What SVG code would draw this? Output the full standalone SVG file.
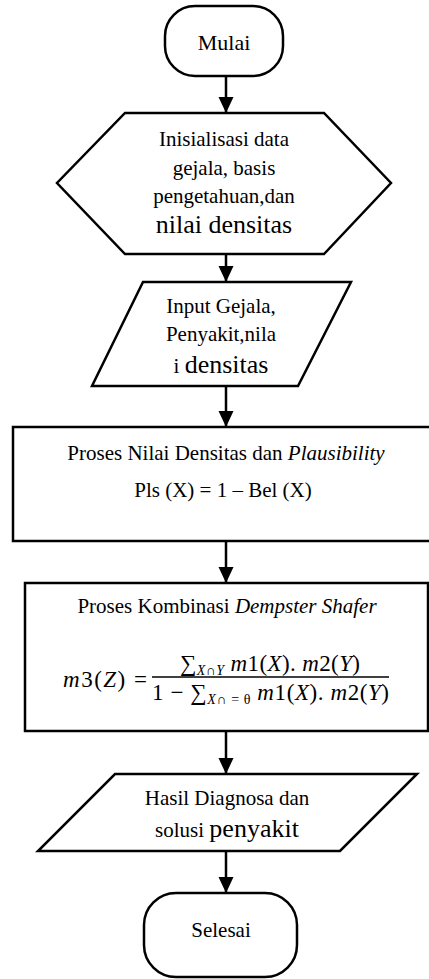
<svg xmlns="http://www.w3.org/2000/svg" width="429" height="979" viewBox="0 0 429 979">
<style>
.s{fill:#fff;stroke:#000;stroke-width:2.5;stroke-linejoin:miter}
.t{font-family:'Liberation Serif','Times New Roman',Times,serif;font-size:21px;fill:#000;text-anchor:middle}
.b{font-size:26px}
.i{font-style:italic}
.m{font-family:'Liberation Serif','Times New Roman',Times,serif;font-size:23px;fill:#000}
.c{stroke:#000;stroke-width:2.5;fill:none}
</style>
<defs>
<marker id="ah" viewBox="0 0 16 16" refX="16" refY="8" markerWidth="16" markerHeight="16" markerUnits="userSpaceOnUse" orient="auto">
<path d="M0,0.5 L16,8 L0,15.5 z" fill="#000"/>
</marker>
</defs>
<g id="connectors">
<line class="c" x1="226" y1="76" x2="226" y2="113" marker-end="url(#ah)"/>
<line class="c" x1="226" y1="254" x2="226" y2="282" marker-end="url(#ah)"/>
<line class="c" x1="226" y1="386" x2="226" y2="427" marker-end="url(#ah)"/>
<line class="c" x1="226" y1="541" x2="226" y2="583" marker-end="url(#ah)"/>
<line class="c" x1="226" y1="731" x2="226" y2="774" marker-end="url(#ah)"/>
<line class="c" x1="226" y1="851" x2="226" y2="893" marker-end="url(#ah)"/>
</g>
<g id="mulai">
<rect class="s" x="165" y="6" width="118" height="70" rx="30" ry="30"/>
<text class="t" x="224" y="50" font-family="Liberation Serif" style="font-size:22px">Mulai</text>
</g>
<g id="inisialisasi">
<polygon class="s" points="125,113 324,113 391,183 324,254 125,254 57,183"/>
<text class="t" x="224" y="146">Inisialisasi data</text>
<text class="t" x="224" y="175">gejala, basis</text>
<text class="t" x="224" y="203">pengetahuan,dan</text>
<text class="t b" x="224" y="233">nilai densitas</text>
</g>
<g id="input">
<polygon class="s" points="143,282 351,282 298,386 92,386"/>
<text class="t" x="221" y="313">Input Gejala,</text>
<text class="t" x="221" y="341">Penyakit,nila</text>
<text class="t" x="221" y="373"><tspan style="font-size:21px">i </tspan><tspan class="b">densitas</tspan></text>
</g>
<g id="proses-densitas">
<rect class="s" x="13" y="427" width="425" height="114"/>
<text class="t" x="226" y="460">Proses Nilai Densitas dan <tspan class="i">Plausibility</tspan></text>
<text class="t" x="223" y="497">Pls (X) = 1 – Bel (X)</text>
</g>
<g id="proses-kombinasi">
<rect class="s" x="25" y="583" width="403" height="148"/>
<text class="t" x="227" y="613">Proses Kombinasi <tspan class="i">Dempster Shafer</tspan></text>
<text class="m" x="63" y="687" textLength="84"><tspan class="i">m</tspan>3(<tspan class="i">Z</tspan>) =</text>
<text class="m" x="180" y="671" textLength="180"><tspan>∑</tspan><tspan class="i" style="font-size:14px" dy="4">X∩Y</tspan><tspan dy="-4"> </tspan><tspan class="i">m</tspan>1(<tspan class="i">X</tspan>). <tspan class="i">m</tspan>2(<tspan class="i">Y</tspan>)</text>
<line x1="152" y1="677" x2="389" y2="677" stroke="#000" stroke-width="1.6"/>
<text class="m" x="152" y="700" textLength="237">1 − <tspan>∑</tspan><tspan style="font-size:14px" dy="4"><tspan class="i">X</tspan>∩ = θ</tspan><tspan dy="-4"> </tspan><tspan class="i">m</tspan>1(<tspan class="i">X</tspan>). <tspan class="i">m</tspan>2(<tspan class="i">Y</tspan>)</text>
</g>
<g id="hasil">
<polygon class="s" points="115,774 417,774 340,851 38,851"/>
<text class="t" x="227" y="805">Hasil Diagnosa dan</text>
<text class="t" x="227" y="837">solusi <tspan class="b">penyakit</tspan></text>
</g>
<g id="selesai">
<rect class="s" x="144" y="893" width="153" height="84" rx="32" ry="32"/>
<text class="t" x="221" y="937">Selesai</text>
</g>
</svg>
